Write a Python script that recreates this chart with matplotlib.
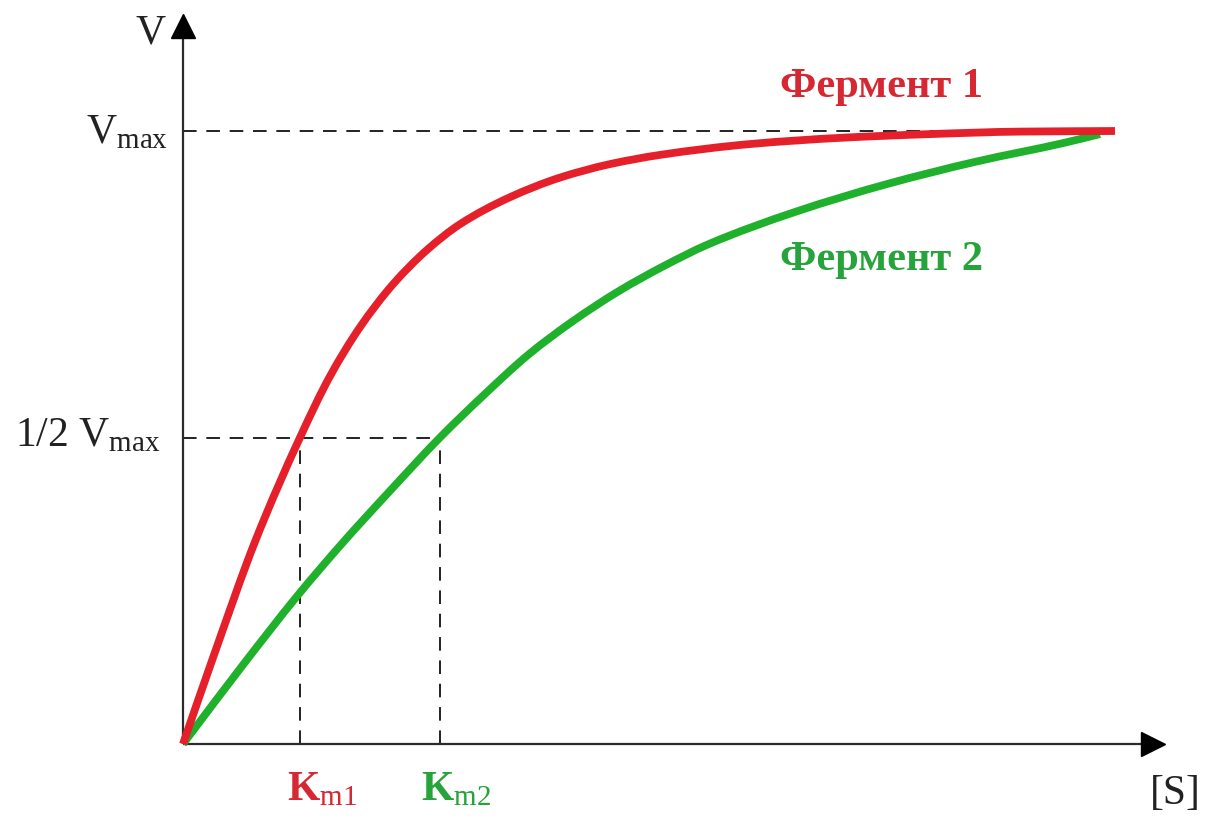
import matplotlib
matplotlib.use("Agg")
import matplotlib.pyplot as plt
from matplotlib.path import Path
from matplotlib.patches import PathPatch
import numpy as np

plt.rcParams['mathtext.fontset'] = 'custom'
plt.rcParams['mathtext.rm'] = 'Liberation Serif'
plt.rcParams['mathtext.it'] = 'Liberation Serif:italic'
plt.rcParams['mathtext.bf'] = 'Liberation Serif:bold'

# ---- data (V relative to Vmax, [S] in arbitrary units) ----
s_enzyme1 = [0.0, 0.32, 0.72, 1.17, 1.47, 1.77, 2.10, 2.44, 2.77, 3.27, 3.77, 4.27, 4.77,
             5.69, 6.59, 7.48, 8.37, 9.32]
v_enzyme1 = [0.0, 0.150, 0.330, 0.5, 0.600, 0.680, 0.750, 0.806, 0.848, 0.892, 0.924,
             0.946, 0.961, 0.979, 0.989, 0.995, 0.999, 1.0]
s_enzyme2 = [0.0, 0.59, 1.15, 1.59, 2.07, 2.57, 3.0, 3.46, 3.9, 4.36, 4.8, 5.25, 6.14,
             7.03, 7.93, 8.82, 9.17]
v_enzyme2 = [0.0, 0.127, 0.243, 0.327, 0.413, 0.5, 0.568, 0.636, 0.690, 0.739, 0.779,
             0.815, 0.869, 0.913, 0.950, 0.981, 0.995]
vmax = 1.0
half_vmax = 0.5
km1 = 1.17
km2 = 2.57
label_enzyme1 = "Фермент 1"
label_enzyme2 = "Фермент 2"

W, H = 1205, 829
fig = plt.figure(figsize=(W / 100, H / 100), dpi=100)
ax = fig.add_axes([0, 0, 1, 1])
# pixel mapping: x=0 at px 183, 1 unit = 100 px ; y=0 at py 745, 1 unit = 613 px
ax.set_xlim(-1.83, (W - 183) / 100)
ax.set_ylim(-(H - 745) / 613, 745 / 613)
ax.axis('off')

def px(x):
    return x / W
def py(y):
    return 1 - y / H

red = '#e5202a'
green = '#1fb02c'
red_txt = '#d62833'
green_txt = '#26a33a'
axis_col = '#2b2b2b'


def smooth_path(xs, ys):
    """Cubic Hermite through the read points (tangents from neighbouring slopes),
    drawn as Bezier segments."""
    x = np.asarray(xs, float)
    y = np.asarray(ys, float)
    h = np.diff(x)
    d = np.diff(y) / h
    m = np.empty_like(x)
    m[0] = d[0]
    m[-1] = d[-1]
    for i in range(1, len(x) - 1):
        # weighted harmonic mean of adjacent slopes (monotone, shape preserving)
        w1 = 2 * h[i] + h[i - 1]
        w2 = h[i] + 2 * h[i - 1]
        m[i] = (w1 + w2) / (w1 / d[i - 1] + w2 / d[i])
    verts = [(x[0], y[0])]
    codes = [Path.MOVETO]
    for i in range(len(x) - 1):
        verts += [(x[i] + h[i] / 3, y[i] + m[i] * h[i] / 3),
                  (x[i + 1] - h[i] / 3, y[i + 1] - m[i + 1] * h[i] / 3),
                  (x[i + 1], y[i + 1])]
        codes += [Path.CURVE4] * 3
    return Path(verts, codes)


# axes with arrows
ax.plot([0, 9.70], [0, 0], color=axis_col, lw=1.6, zorder=2, solid_capstyle='butt')
ax.plot([0, 0], [0, 1.15], color=axis_col, lw=1.6, zorder=2, solid_capstyle='butt')
ax.plot([9.70], [0], marker='>', markersize=17, color='black', zorder=3)
ax.plot([0], [1.171], marker='^', markersize=17, color='black', zorder=3)

# dashed guide lines
dash = dict(color='#222222', lw=1.4, linestyle=(0, (7, 5)), zorder=1)
ax.plot([0, s_enzyme1[-1]], [vmax, vmax], **dash)
ax.plot([0, km2], [half_vmax, half_vmax], **dash)
ax.plot([km1, km1], [0, half_vmax], **dash)
ax.plot([km2, km2], [0, half_vmax], **dash)

# curves
ax.add_patch(PathPatch(smooth_path(s_enzyme2, v_enzyme2), facecolor='none',
                       edgecolor=green, lw=5.6, zorder=4, capstyle='butt'))
ax.add_patch(PathPatch(smooth_path(s_enzyme1, v_enzyme1), facecolor='none',
                       edgecolor=red, lw=5.6, zorder=5, capstyle='butt'))

serif = 'Liberation Serif'
tc = '#222222'
fig.text(px(135), py(43), "V", fontsize=30, family=serif, color=tc, va='baseline', ha='left')
fig.text(px(86), py(143), r"$\mathrm{V}_{\mathrm{max}}$", fontsize=30, color=tc,
         va='baseline', ha='left')
fig.text(px(15), py(446), r"$\mathrm{1/2\ V}_{\mathrm{max}}$", fontsize=30, color=tc,
         va='baseline', ha='left')
fig.text(px(287), py(800), r"$\mathbf{K}_{\mathrm{m1}}$", fontsize=30, color=red_txt,
         va='baseline', ha='left')
fig.text(px(421), py(800), r"$\mathbf{K}_{\mathrm{m2}}$", fontsize=30, color=green_txt,
         va='baseline', ha='left')
fig.text(px(1150), py(804), "[S]", fontsize=30, family=serif, color=tc,
         va='baseline', ha='left')
fig.text(px(780), py(97), label_enzyme1, fontsize=30.5, family=serif, weight='bold',
         color=red_txt, va='baseline', ha='left')
fig.text(px(780), py(270), label_enzyme2, fontsize=30.5, family=serif, weight='bold',
         color=green_txt, va='baseline', ha='left')

fig.savefig("out.png", dpi=100, facecolor='white')
